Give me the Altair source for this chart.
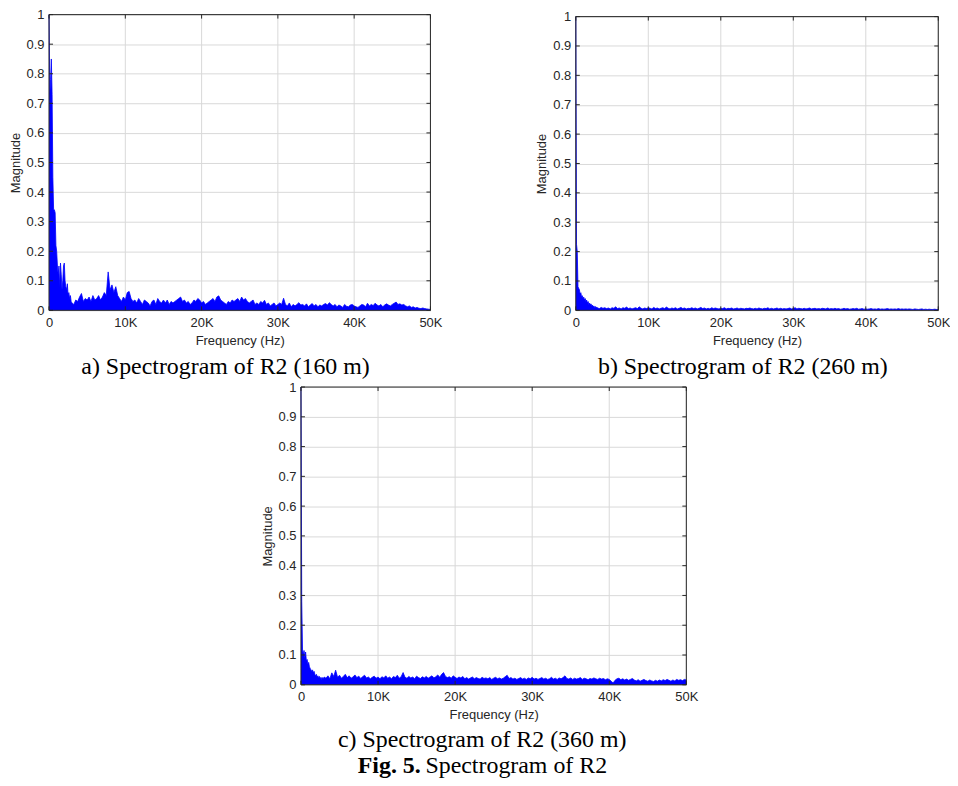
import altair as alt
import pandas as pd

# FFT bin frequencies (Hz): fine grid below 3 kHz, coarser grid above
HEAD_FREQ = list(range(0, 3001, 100))
TAIL_FREQ = list(range(3250, 50001, 250))

X_TICKS = [0, 10000, 20000, 30000, 40000, 50000]
Y_TICKS = [0, 0.1, 0.2, 0.3, 0.4, 0.5, 0.6, 0.7, 0.8, 0.9, 1]

CAPTION_A = "a) Spectrogram of R2 (160 m)"
CAPTION_B = "b) Spectrogram of R2 (260 m)"
CAPTION_C = "c) Spectrogram of R2 (360 m)"
FIG_LABEL = "Fig. 5."
FIG_TEXT = "Spectrogram of R2"

# ---- panel a (160 m) ----
A_HEAD = [1.0, 0.73, 0.78, 0.85, 0.73, 0.45, 0.34, 0.34, 0.33, 0.22,
          0.2, 0.15, 0.12, 0.15, 0.08, 0.16, 0.12, 0.07, 0.1, 0.15,
          0.16, 0.1, 0.08, 0.07, 0.09, 0.05, 0.06, 0.04, 0.05, 0.03, 0.025]
A_TAIL = [
    0.02, 0.035, 0.03, 0.045,
    0.057, 0.03, 0.04, 0.035,
    0.045, 0.03, 0.05, 0.035,
    0.04, 0.05, 0.035, 0.045,
    0.06, 0.05, 0.13, 0.07,
    0.086, 0.06, 0.08, 0.05,
    0.04, 0.03, 0.045, 0.035,
    0.06, 0.064, 0.04, 0.03,
    0.035, 0.025, 0.04, 0.03,
    0.02, 0.035, 0.03, 0.025,
    0.015, 0.03, 0.035, 0.02,
    0.04, 0.03, 0.025, 0.035,
    0.025, 0.035, 0.02, 0.03,
    0.025, 0.03, 0.035, 0.04,
    0.045, 0.03, 0.035, 0.025,
    0.03, 0.02, 0.025, 0.035,
    0.03, 0.04, 0.035, 0.025,
    0.03, 0.02, 0.025, 0.03,
    0.035, 0.04, 0.03, 0.045,
    0.049, 0.035, 0.03, 0.025,
    0.02, 0.03, 0.025, 0.035,
    0.03, 0.035, 0.04, 0.03,
    0.045, 0.035, 0.04, 0.03,
    0.025, 0.03, 0.035, 0.02,
    0.025, 0.02, 0.03, 0.025,
    0.034, 0.02, 0.025, 0.015,
    0.02, 0.025, 0.015, 0.02,
    0.025, 0.02, 0.041, 0.02,
    0.015, 0.025, 0.012, 0.02,
    0.015, 0.02, 0.026, 0.018,
    0.02, 0.015, 0.022, 0.012,
    0.018, 0.023, 0.015, 0.02,
    0.012, 0.018, 0.015, 0.02,
    0.023, 0.018, 0.026, 0.02,
    0.015, 0.02, 0.012, 0.018,
    0.015, 0.01, 0.02, 0.014,
    0.012, 0.018, 0.02, 0.015,
    0.012, 0.01, 0.015, 0.02,
    0.018, 0.012, 0.024, 0.015,
    0.02, 0.016, 0.024, 0.018,
    0.015, 0.02, 0.012, 0.018,
    0.022, 0.018, 0.015, 0.02,
    0.024, 0.028, 0.02, 0.022,
    0.018, 0.02, 0.015, 0.012,
    0.015, 0.01, 0.012, 0.008,
    0.01, 0.007, 0.006, 0.008,
    0.006, 0.005, 0.004, 0.003,
]

# ---- panel b (260 m) ----
B_HEAD = [1.0, 0.225, 0.2, 0.08, 0.075, 0.07, 0.055, 0.06, 0.045, 0.05,
          0.04, 0.045, 0.035, 0.04, 0.03, 0.035, 0.025, 0.03, 0.02, 0.025,
          0.018, 0.022, 0.015, 0.018, 0.012, 0.015, 0.01, 0.013, 0.009, 0.011, 0.008]
B_TAIL = [
    0.006, 0.01, 0.007, 0.009,
    0.006, 0.008, 0.005, 0.009,
    0.007, 0.012, 0.006, 0.008,
    0.005, 0.009, 0.007, 0.011,
    0.006, 0.008, 0.005, 0.007,
    0.009, 0.006, 0.012, 0.007,
    0.005, 0.008, 0.006, 0.009,
    0.007, 0.005, 0.01, 0.006,
    0.008, 0.005, 0.007, 0.009,
    0.006, 0.011, 0.007, 0.005,
    0.008, 0.006, 0.009, 0.005,
    0.007, 0.01, 0.006, 0.008,
    0.005, 0.007, 0.006, 0.009,
    0.006, 0.008, 0.005, 0.007,
    0.01, 0.006, 0.008, 0.005,
    0.007, 0.005, 0.009, 0.006,
    0.008, 0.006, 0.005, 0.007,
    0.006, 0.009, 0.005, 0.007,
    0.006, 0.008, 0.005, 0.006,
    0.008, 0.005, 0.007, 0.006,
    0.005, 0.007, 0.006, 0.008,
    0.006, 0.005, 0.007, 0.005,
    0.008, 0.006, 0.005, 0.007,
    0.006, 0.009, 0.005, 0.007,
    0.005, 0.006, 0.008, 0.005,
    0.007, 0.005, 0.006, 0.005,
    0.006, 0.008, 0.005, 0.006,
    0.009, 0.005, 0.007, 0.006,
    0.005, 0.007, 0.005, 0.006,
    0.008, 0.005, 0.006, 0.007,
    0.005, 0.006, 0.005, 0.007,
    0.006, 0.005, 0.008, 0.005,
    0.006, 0.005, 0.007, 0.005,
    0.006, 0.004, 0.005, 0.007,
    0.005, 0.006, 0.004, 0.005,
    0.006, 0.005, 0.007, 0.004,
    0.005, 0.006, 0.004, 0.005,
    0.004, 0.005, 0.006, 0.004,
    0.005, 0.004, 0.006, 0.004,
    0.005, 0.004, 0.005, 0.006,
    0.004, 0.005, 0.004, 0.005,
    0.004, 0.006, 0.004, 0.005,
    0.004, 0.005, 0.004, 0.005,
    0.004, 0.003, 0.005, 0.004,
    0.003, 0.004, 0.005, 0.003,
    0.004, 0.003, 0.004, 0.003,
    0.003, 0.004, 0.003, 0.003,
]

# ---- panel c (360 m) ----
C_HEAD = [1.0, 0.28, 0.12, 0.1, 0.115, 0.09, 0.11, 0.08, 0.085, 0.07,
          0.075, 0.06, 0.055, 0.05, 0.045, 0.05, 0.04, 0.045, 0.035, 0.03,
          0.035, 0.025, 0.03, 0.022, 0.028, 0.02, 0.025, 0.018, 0.024, 0.02, 0.026]
C_TAIL = [
    0.022, 0.03, 0.02, 0.04,
    0.028, 0.049, 0.025, 0.032,
    0.022, 0.028, 0.035, 0.024,
    0.03, 0.022, 0.026, 0.033,
    0.024, 0.029, 0.021, 0.027,
    0.032, 0.023, 0.026, 0.02,
    0.025, 0.029, 0.022, 0.026,
    0.02, 0.027, 0.023, 0.03,
    0.022, 0.026, 0.02, 0.028,
    0.024, 0.032, 0.022, 0.027,
    0.041, 0.025, 0.022, 0.028,
    0.023, 0.026, 0.02, 0.029,
    0.024, 0.021, 0.027, 0.023,
    0.028, 0.022, 0.026, 0.03,
    0.023, 0.027, 0.033, 0.025,
    0.035, 0.041, 0.028, 0.024,
    0.027, 0.022, 0.03, 0.025,
    0.021, 0.026, 0.023, 0.028,
    0.02, 0.024, 0.019, 0.023,
    0.026, 0.02, 0.024, 0.021,
    0.019, 0.025, 0.021, 0.023,
    0.02, 0.024, 0.018, 0.022,
    0.025, 0.02, 0.023, 0.019,
    0.022, 0.027, 0.032, 0.021,
    0.024, 0.019, 0.022, 0.018,
    0.021, 0.024, 0.019, 0.022,
    0.018, 0.023, 0.02, 0.025,
    0.019, 0.022, 0.018, 0.021,
    0.024, 0.019, 0.022, 0.018,
    0.02, 0.025, 0.019, 0.022,
    0.018, 0.023, 0.02, 0.024,
    0.03, 0.021, 0.019, 0.023,
    0.018, 0.022, 0.019, 0.021,
    0.024, 0.018, 0.022, 0.02,
    0.017, 0.021, 0.019, 0.023,
    0.02, 0.018, 0.022, 0.019,
    0.021, 0.017, 0.02, 0.018,
    0.012, 0.006, 0.015, 0.02,
    0.022, 0.017, 0.02, 0.016,
    0.019, 0.015, 0.018, 0.021,
    0.016, 0.013, 0.017, 0.012,
    0.015, 0.018, 0.014, 0.012,
    0.016, 0.013, 0.011, 0.015,
    0.012, 0.016, 0.013, 0.017,
    0.014, 0.018, 0.015, 0.012,
    0.016, 0.013, 0.018, 0.015,
    0.017, 0.014, 0.018, 0.016,
]

FREQS = HEAD_FREQ + TAIL_FREQ

BLUE = "#0000ff"
AXIS_COLOR = "#262626"
GRID_COLOR = "#d9d9d9"
SANS = "Liberation Sans"
SERIF = "Liberation Serif"
CAP_SIZE = 24
TICK_LEN = 4


def spectrum(head, tail, w, h, top=0):
    """Spectrum panel; `top` is the empty band (px) above the frame."""
    xe = alt.X("f:Q",
               scale=alt.Scale(domain=[0, 50000], nice=False),
               axis=alt.Axis(values=X_TICKS, title="Frequency (Hz)", labelFlush=False,
                             grid=False,
                             labelExpr="datum.value == 0 ? '0' : (datum.value / 1000) + 'K'",
                             labelPadding=6, titlePadding=5))
    ye = alt.Y("m:Q",
               scale=alt.Scale(domain=[0, 1], nice=False, range=[h, top]),
               axis=alt.Axis(values=Y_TICKS, format="~g", title="Magnitude", labelFlush=False,
                             grid=True, labelPadding=5, titlePadding=4))
    df = pd.DataFrame({"f": FREQS, "m": head + tail})
    xt = pd.DataFrame({"f": X_TICKS})
    yt = pd.DataFrame({"m": Y_TICKS})
    edges_x = pd.DataFrame({"f": [0, 50000]})
    edges_y = pd.DataFrame({"m": [0, 1]})

    vgrid = alt.Chart(xt).mark_rule(color=GRID_COLOR, strokeWidth=1).encode(
        x=xe, y=alt.value(top), y2=alt.value(h))
    area = alt.Chart(df).mark_area(
        color=BLUE, opacity=1, interpolate="linear",
        line={"color": BLUE, "strokeWidth": 0.8},
    ).encode(x=xe, y=ye)
    frame_v = alt.Chart(edges_x).mark_rule(color=AXIS_COLOR, strokeWidth=1).encode(
        x=xe, y=alt.value(top), y2=alt.value(h))
    frame_h = alt.Chart(edges_y).mark_rule(color=AXIS_COLOR, strokeWidth=1).encode(
        y=ye, x=alt.value(0), x2=alt.value(w))
    tick_top = alt.Chart(xt).mark_rule(color=AXIS_COLOR, strokeWidth=1).encode(
        x=xe, y=alt.value(top), y2=alt.value(top + TICK_LEN))
    tick_bot = alt.Chart(xt).mark_rule(color=AXIS_COLOR, strokeWidth=1).encode(
        x=xe, y=alt.value(h - TICK_LEN), y2=alt.value(h))
    tick_left = alt.Chart(yt).mark_rule(color=AXIS_COLOR, strokeWidth=1).encode(
        y=ye, x=alt.value(0), x2=alt.value(TICK_LEN))
    tick_right = alt.Chart(yt).mark_rule(color=AXIS_COLOR, strokeWidth=1).encode(
        y=ye, x=alt.value(w - TICK_LEN), x2=alt.value(w))
    return [vgrid, area, frame_v, frame_h, tick_top, tick_bot, tick_left, tick_right]


def caption(text):
    return alt.TitleParams(text, orient="bottom", anchor="middle", frame="bounds", font=SERIF,
                           fontSize=CAP_SIZE, fontWeight="normal", color="black", offset=8)


panel_a = alt.layer(*spectrum(A_HEAD, A_TAIL, 383, 297)).properties(
    width=383, height=297, title=caption(CAPTION_A))
panel_b = alt.layer(*spectrum(B_HEAD, B_TAIL, 364, 297, top=2)).properties(
    width=364, height=297, title=caption(CAPTION_B))

c_cap = alt.Chart(pd.DataFrame({"t": [CAPTION_C]})).mark_text(
    font=SERIF, fontSize=CAP_SIZE, color="black", align="center", baseline="middle"
).encode(text="t:N", x=alt.value(182), y=alt.value(354))
c_fig = alt.Chart(pd.DataFrame({"t": [FIG_LABEL]})).mark_text(
    font=SERIF, fontSize=CAP_SIZE, fontWeight="bold", color="black", align="left", baseline="middle"
).encode(text="t:N", x=alt.value(57), y=alt.value(381))
c_fig2 = alt.Chart(pd.DataFrame({"t": [FIG_TEXT]})).mark_text(
    font=SERIF, fontSize=CAP_SIZE, color="black", align="left", baseline="middle"
).encode(text="t:N", x=alt.value(125), y=alt.value(381))
panel_c = alt.layer(*spectrum(C_HEAD, C_TAIL, 387, 299), c_cap, c_fig, c_fig2).properties(
    width=387, height=299)

top_row = alt.hconcat(panel_a, panel_b, spacing=93)
chart = alt.vconcat(top_row, panel_c, spacing=2, center=True).configure_view(
    strokeWidth=0
).configure_axis(
    labelFont=SANS, labelFontSize=13, labelColor=AXIS_COLOR,
    titleFont=SANS, titleFontSize=13, titleFontWeight="normal", titleColor=AXIS_COLOR,
    gridColor=GRID_COLOR, gridWidth=1, gridOpacity=1,
    domain=False, ticks=False,
).properties(padding={"left": 1, "top": -1, "right": 0, "bottom": 0}, background="white")

chart.save("out.html", embed_options={"renderer": "svg", "actions": False})
